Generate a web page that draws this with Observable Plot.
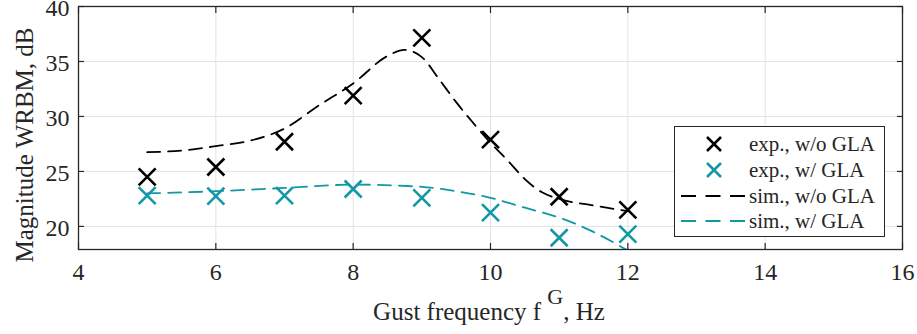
<!DOCTYPE html>
<html>
<head>
<meta charset="utf-8">
<script src="https://cdn.jsdelivr.net/npm/d3@7"></script>
<script src="https://cdn.jsdelivr.net/npm/@observablehq/plot@0.6"></script>
<style>
  html, body { margin: 0; padding: 0; background: #fff; overflow: hidden; }
  #chart { position: relative; width: 917px; height: 334px; }
</style>
</head>
<body>
<div id="chart"></div>
<script>
// ---- data ----
const freq = [5, 6, 7, 8, 9, 10, 11, 12];
const expNoGLA = [24.5, 25.4, 27.7, 31.9, 37.15, 27.9, 22.7, 21.5];
const expGLA = [22.8, 22.75, 22.8, 23.4, 22.6, 21.25, 18.97, 19.3];

const simNoGLAFreq = [5, 5.5, 6, 6.5, 7, 7.5, 8, 8.5, 8.75, 9, 9.25, 9.5, 9.75, 10, 10.25, 10.5, 10.75, 11, 11.5, 12];
const simNoGLA = [26.75, 26.9, 27.3, 27.8, 28.9, 31.0, 33.0, 35.5, 36.05, 35.4, 33.4, 31.3, 29.4, 27.6, 26.0, 24.3, 23.1, 22.5, 21.9, 21.4];

const simGLAFreq = [5, 6, 7, 8, 9, 9.5, 10, 10.5, 11, 11.5, 12];
const simGLA = [23.0, 23.2, 23.5, 23.8, 23.6, 23.2, 22.6, 21.7, 20.8, 19.5, 17.8];

const xTicks = [4, 6, 8, 10, 12, 14, 16];
const yTicks = [20, 25, 30, 35, 40];

const seriesNames = ["exp., w/o GLA", "exp., w/ GLA", "sim., w/o GLA", "sim., w/ GLA"];
const seriesColors = ["#000000", "#1298a4", "#000000", "#1298a4"];

// ---- build tables ----
const expA = freq.map((f, i) => ({f, v: expNoGLA[i]}));
const expB = freq.map((f, i) => ({f, v: expGLA[i]}));
const simA = simNoGLAFreq.map((f, i) => ({f, v: simNoGLA[i]}));
const simB = simGLAFreq.map((f, i) => ({f, v: simGLA[i]}));

const cross = {
  draw(ctx, size) {
    const r = Math.sqrt(size / Math.PI);
    ctx.moveTo(-r, -r); ctx.lineTo(r, r);
    ctx.moveTo(-r, r); ctx.lineTo(r, -r);
  }
};

const axisColor = "#262626";
const gridColor = "#e3e3e3";
const font = "'Liberation Serif', 'DejaVu Serif', serif";

const plot = Plot.plot({
  width: 917,
  height: 334,
  marginLeft: 78,
  marginRight: 15,
  marginTop: 6,
  marginBottom: 85,
  style: {fontFamily: font, fontSize: "24px", color: axisColor, background: "white", overflow: "visible"},
  x: {domain: [4, 16], ticks: xTicks},
  y: {domain: [17.9, 40], ticks: yTicks},
  marks: [
    Plot.gridX(xTicks, {stroke: gridColor, strokeOpacity: 1, strokeWidth: 1}),
    Plot.gridY(yTicks, {stroke: gridColor, strokeOpacity: 1, strokeWidth: 1}),
    Plot.axisX(xTicks, {anchor: "bottom", tickSize: -6, tickPadding: 19, stroke: axisColor, strokeWidth: 1.2, fill: axisColor, fontSize: 24, label: null}),
    Plot.axisX(xTicks, {anchor: "top", tickSize: -6, stroke: axisColor, strokeWidth: 1.2, tickFormat: () => "", label: null}),
    Plot.axisY(yTicks, {anchor: "left", tickSize: -6, stroke: axisColor, strokeWidth: 1.2, tickFormat: () => "", label: null}),
    Plot.axisY(yTicks, {anchor: "left", tickSize: 0, tickPadding: 9, dy: 2, fill: axisColor, fontSize: 24, label: null}),
    Plot.axisY(yTicks, {anchor: "right", tickSize: -6, stroke: axisColor, strokeWidth: 1.2, tickFormat: () => "", label: null}),
    Plot.line(simA, {x: "f", y: "v", stroke: seriesColors[2], strokeWidth: 1.8, strokeDasharray: "13,8", curve: "monotone-x", clip: true}),
    Plot.line(simB, {x: "f", y: "v", stroke: seriesColors[3], strokeWidth: 1.8, strokeDasharray: "13,8", curve: "monotone-x", clip: true}),
    Plot.dot(expA, {x: "f", y: "v", symbol: cross, r: 8.5, stroke: seriesColors[0], strokeWidth: 2.6}),
    Plot.dot(expB, {x: "f", y: "v", symbol: cross, r: 8.5, stroke: seriesColors[1], strokeWidth: 2.6}),
    Plot.frame({stroke: axisColor, strokeWidth: 1.3})
  ]
});

document.getElementById("chart").appendChild(plot);

// ---- axis titles & legend drawn into the same svg ----
const svg = d3.select(plot);
svg.append("text")
  .attr("transform", "translate(33,145) rotate(-90)")
  .attr("text-anchor", "middle")
  .attr("fill", axisColor)
  .style("font-family", font)
  .style("font-size", "25px")
  .text("Magnitude WRBM, dB");

const xl = svg.append("text")
  .attr("x", 489).attr("y", 320)
  .attr("text-anchor", "middle")
  .attr("fill", axisColor)
  .style("font-family", font)
  .style("font-size", "25px");
xl.append("tspan").text("Gust frequency f ");
xl.append("tspan").attr("dy", -16).style("font-size", "22px").text("G");
xl.append("tspan").attr("dy", 16).text(", Hz");

const lg = svg.append("g");
lg.append("rect").attr("x", 674.5).attr("y", 126.5).attr("width", 210).attr("height", 110)
  .attr("fill", "white").attr("stroke", axisColor).attr("stroke-width", 1);
const rowY = [144, 170, 196, 221];
seriesNames.forEach((name, i) => {
  const y = rowY[i];
  if (i < 2) {
    const r = 7;
    lg.append("path").attr("d", `M${714 - r},${y - r}L${714 + r},${y + r}M${714 - r},${y + r}L${714 + r},${y - r}`)
      .attr("stroke", seriesColors[i]).attr("stroke-width", 2.6).attr("fill", "none");
  } else {
    lg.append("line").attr("x1", 681).attr("x2", 745).attr("y1", y).attr("y2", y)
      .attr("stroke", seriesColors[i]).attr("stroke-width", 1.8).attr("stroke-dasharray", "15,9.5");
  }
  lg.append("text").attr("x", 749).attr("y", y + 7)
    .attr("text-anchor", "start")
    .attr("fill", axisColor)
    .style("font-family", font).style("font-size", "21px")
    .text(name);
});
</script>
</body>
</html>
